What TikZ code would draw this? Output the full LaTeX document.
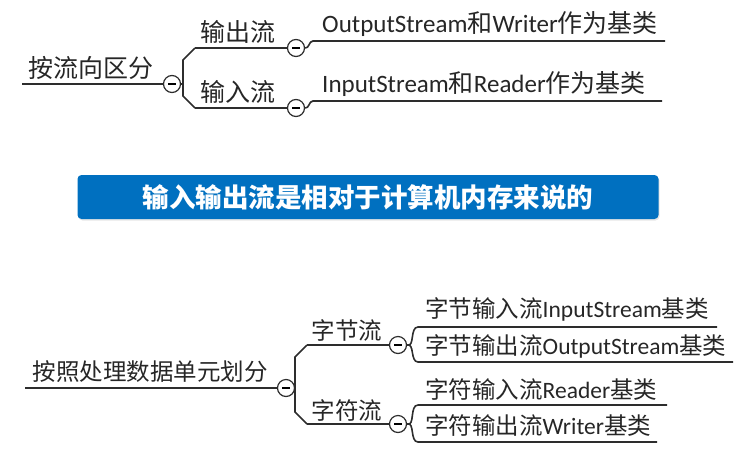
\documentclass[tikz,border=0pt]{standalone}
\usepackage{fontspec}
\setmainfont{Carlito}
\newfontfamily\cjk{Noto Sans CJK SC}
\usepackage{tikz}
\usetikzlibrary{positioning,shadows}
\definecolor{bannerclr}{RGB}{0,112,192}
\definecolor{lineclr}{RGB}{45,45,45}
\tikzset{
  topic/.style={inner sep=0pt,font=\fontsize{25}{28}\selectfont,text=black!85},
  subtopic/.style={topic,font=\fontsize{23.5}{27}\selectfont},
  leaf/.style={topic,anchor=west},
  subleaf/.style={subtopic,anchor=west},
  fold/.style={circle,draw=lineclr,line width=1.2pt,fill=white,
               minimum size=17pt,inner sep=0pt},
  branch/.style={draw=lineclr,line width=1.6pt},
  banner/.style={rectangle,rounded corners=4pt,fill=bannerclr,text=white,
                 minimum width=581pt,minimum height=44pt,
                 font=\fontsize{26.5}{30}\selectfont\cjk\bfseries,
                 drop shadow={opacity=0.2,shadow xshift=1pt,shadow yshift=-1.5pt}},
}
\newcommand{\minus}{\rule[0.2pt]{8pt}{1.2pt}}
\newcommand{\zh}[1]{{\cjk #1}}

\begin{document}
\begin{tikzpicture}[x=1pt,y=-1pt]
\useasboundingbox (0,0) rectangle (755,448);

% flow direction
\node[fold] (c1) at (172,84) {\minus};
\node[fold] (c2) at (296,48) {\minus};
\node[fold] (c3) at (296,108) {\minus};
\coordinate (r1) at (22,84);
\node[topic] (dir) at (91,68) {\zh{按流向区分}};
\node[topic] (out) at (238,32) {\zh{输出流}};
\node[topic] (in) at (238,92) {\zh{输入流}};
\node[leaf] (outbase) at (322,24) {OutputStream\zh{和}Writer\zh{作为基类}};
\node[leaf] (inbase) at (322,84) {InputStream\zh{和}Reader\zh{作为基类}};
\coordinate (j1) at (183,84);
\coordinate (e1) at (195,48);
\coordinate (e2) at (195,108);
\coordinate (l1) at (313,41);
\coordinate (l1end) at (665,41);
\coordinate (l2) at (313,101);
\coordinate (l2end) at (662,101);

\draw[branch] (r1) -- (c1.west);
\draw[branch] (c1.east) -- (j1);
\draw[branch] (e1) -- (183,60) -- (183,96) -- (e2);
\draw[branch] (e1) -- (c2.west);
\draw[branch] (e2) -- (c3.west);
\draw[branch] (c2.east) to[out=-10,in=180] (l1) -- (l1end);
\draw[branch] (c3.east) to[out=-10,in=180] (l2) -- (l2end);

\node[banner] (note) at (368,197) {输入输出流是相对于计算机内存来说的};

% data unit
\node[fold] (c4) at (286,388) {\minus};
\node[fold] (c5) at (398,345) {\minus};
\node[fold] (c6) at (398,424) {\minus};
\coordinate (r2) at (25,388);
\node[subtopic] (unit) at (150,372) {\zh{按照处理数据单元划分}};
\node[subtopic] (byte) at (347,330) {\zh{字节流}};
\node[subtopic] (char) at (347,410) {\zh{字符流}};
\node[subleaf] (bin) at (425,309) {\zh{字节输入流}InputStream\zh{基类}};
\node[subleaf] (bout) at (425,346) {\zh{字节输出流}OutputStream\zh{基类}};
\node[subleaf] (cin) at (425,389) {\zh{字符输入流}Reader\zh{基类}};
\node[subleaf] (cout) at (425,425) {\zh{字符输出流}Writer\zh{基类}};
\coordinate (j2) at (295,388);
\coordinate (e3) at (307,345);
\coordinate (e4) at (307,424);
\coordinate (m1) at (418,327);
\coordinate (m1end) at (717,327);
\coordinate (m2) at (418,362);
\coordinate (m2end) at (733,362);
\coordinate (m3) at (418,405);
\coordinate (m3end) at (667,405);
\coordinate (m4) at (418,442);
\coordinate (m4end) at (657,442);

\draw[branch] (r2) -- (c4.west);
\draw[branch] (c4.east) -- (j2);
\draw[branch] (e3) -- (295,357) -- (295,412) -- (e4);
\draw[branch] (e3) -- (c5.west);
\draw[branch] (e4) -- (c6.west);
\draw[branch] (c5.east) to[out=-20,in=180] (m1) -- (m1end);
\draw[branch] (c5.east) to[out=20,in=180] (m2) -- (m2end);
\draw[branch] (c6.east) to[out=-20,in=180] (m3) -- (m3end);
\draw[branch] (c6.east) to[out=20,in=180] (m4) -- (m4end);
\end{tikzpicture}
\end{document}
